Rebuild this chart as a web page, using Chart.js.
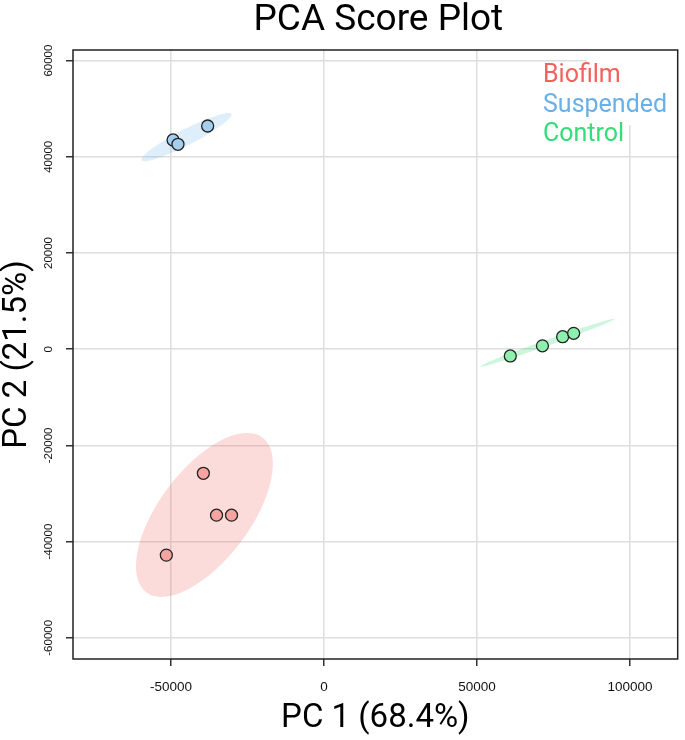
<!DOCTYPE html>
<html>
<head>
<meta charset="utf-8">
<style>
  html, body { margin: 0; padding: 0; background: #fff; }
  #wrap { width: 685px; height: 740px; }
</style>
<script src="https://cdn.jsdelivr.net/npm/chart.js@4.4.1/dist/chart.umd.min.js"></script>
</head>
<body>
<div id="wrap"><canvas id="pca"></canvas></div>
<script>
const groupNames = ['Biofilm', 'Suspended', 'Control'];

const biofilmX = [-39400, -35100, -30200, -51500];
const biofilmY = [-25800, -34500, -34500, -42800];
const suspendedX = [-49300, -47700, -38000];
const suspendedY = [43500, 42600, 46400];
const controlX = [60900, 71400, 78000, 81600];
const controlY = [-1400, 700, 2600, 3300];

// confidence ellipses: centre, end of major semi-axis, end of minor semi-axis
const ellipseCentres = [[-39050, -34450], [-44900, 44100], [73000, 1350]];
const ellipseMajorEnds = [[-20000, -18400], [-30200, 48900], [94900, 6300]];
const ellipseMinorEnds = [[-27300, -40200], [-43800, 42600], [73300, 770]];

const xTicks = [-50000, 0, 50000, 100000];
const yTicks = [-60000, -40000, -20000, 0, 20000, 40000, 60000];

const textColours = ['#f2615c', '#6ab0e6', '#33dd77'];
const pointColours = ['#f5a49f', '#a5cdee', '#8ef0ad'];
const ellipseColours = ['rgba(242, 97, 92, 0.22)', 'rgba(106, 176, 230, 0.22)', 'rgba(51, 221, 119, 0.25)'];

function toPoints(xs, ys) {
  return xs.map((v, i) => ({ x: v, y: ys[i] }));
}

const ellipsePlugin = {
  id: 'ellipses',
  beforeDatasetsDraw(chart) {
    const { ctx, chartArea, scales: { x, y } } = chart;
    ctx.save();
    ctx.beginPath();
    ctx.rect(chartArea.left, chartArea.top, chartArea.width, chartArea.height);
    ctx.clip();
    ellipseCentres.forEach((c, i) => {
      const cx = x.getPixelForValue(c[0]);
      const cy = y.getPixelForValue(c[1]);
      const ux = x.getPixelForValue(ellipseMajorEnds[i][0]) - cx;
      const uy = y.getPixelForValue(ellipseMajorEnds[i][1]) - cy;
      const vx = x.getPixelForValue(ellipseMinorEnds[i][0]) - cx;
      const vy = y.getPixelForValue(ellipseMinorEnds[i][1]) - cy;
      ctx.save();
      ctx.transform(ux, uy, vx, vy, cx, cy);
      ctx.beginPath();
      ctx.arc(0, 0, 1, 0, Math.PI * 2);
      ctx.restore();
      ctx.fillStyle = ellipseColours[i];
      ctx.fill();
    });
    ctx.restore();
  }
};

const framePlugin = {
  id: 'frame',
  afterDatasetsDraw(chart) {
    const { ctx, chartArea } = chart;
    ctx.save();

    // legend sits on a white patch in the top right corner
    ctx.fillStyle = '#fff';
    ctx.fillRect(587, chartArea.top, chartArea.right - 587, 125 - chartArea.top);
    ctx.font = '25px Roboto';
    ctx.textAlign = 'left';
    ctx.textBaseline = 'alphabetic';
    groupNames.forEach((name, i) => {
      ctx.fillStyle = textColours[i];
      ctx.fillText(name, 543, 82 + i * 29.5);
    });

    ctx.strokeStyle = '#222';
    ctx.lineWidth = 1.5;
    ctx.strokeRect(chartArea.left, chartArea.top, chartArea.width, chartArea.height);

    ctx.fillStyle = '#000';
    ctx.font = '37px Roboto';
    ctx.textAlign = 'center';
    ctx.textBaseline = 'middle';
    ctx.fillText('PCA Score Plot', (chartArea.left + chartArea.right) / 2 + 3, 21);
    ctx.restore();
  }
};

new Chart(document.getElementById('pca'), {
  type: 'scatter',
  data: {
    datasets: [
      { label: groupNames[0], data: toPoints(biofilmX, biofilmY), backgroundColor: pointColours[0] },
      { label: groupNames[1], data: toPoints(suspendedX, suspendedY), backgroundColor: pointColours[1] },
      { label: groupNames[2], data: toPoints(controlX, controlY), backgroundColor: pointColours[2] }
    ]
  },
  options: {
    responsive: true,
    maintainAspectRatio: false,
    animation: false,
    layout: { padding: { left: 0, right: 3, top: 50, bottom: 0 } },
    elements: {
      point: { radius: 6, hoverRadius: 6, borderColor: '#222', borderWidth: 1.3 }
    },
    plugins: {
      legend: { display: false },
      title: { display: false },
      tooltip: { enabled: false }
    },
    scales: {
      x: {
        type: 'linear',
        min: -82000,
        max: 115600,
        afterBuildTicks: (scale) => { scale.ticks = xTicks.map((v) => ({ value: v })); },
        afterFit: (scale) => { scale.height = 81; },
        border: { display: false },
        grid: { color: '#dedede', lineWidth: 1.5, tickColor: '#333', tickWidth: 1.5, tickLength: 7 },
        ticks: {
          padding: 13,
          color: '#111',
          font: { family: 'Liberation Sans', size: 13.5 },
          maxRotation: 0,
          callback: (v) => String(v)
        },
        title: {
          display: true,
          text: 'PC 1 (68.4%)',
          color: '#000',
          font: { family: 'Roboto', size: 33, lineHeight: 1 },
          padding: { top: 0, bottom: 5 }
        }
      },
      y: {
        type: 'linear',
        min: -64400,
        max: 62200,
        afterBuildTicks: (scale) => { scale.ticks = yTicks.map((v) => ({ value: v })); },
        afterFit: (scale) => { scale.width = 73; },
        border: { display: false },
        grid: { color: '#dedede', lineWidth: 1.5, tickColor: '#333', tickWidth: 1.5, tickLength: 7 },
        ticks: {
          padding: -1,
          crossAlign: 'center',
          minRotation: 90,
          maxRotation: 90,
          color: '#111',
          font: { family: 'Liberation Sans', size: 11.5 },
          callback: (v) => String(v)
        },
        title: {
          display: true,
          text: 'PC 2 (21.5%)',
          color: '#000',
          font: { family: 'Roboto', size: 33, lineHeight: 1 },
          padding: { top: 1, bottom: 0 }
        }
      }
    }
  },
  plugins: [ellipsePlugin, framePlugin]
});
</script>
</body>
</html>
